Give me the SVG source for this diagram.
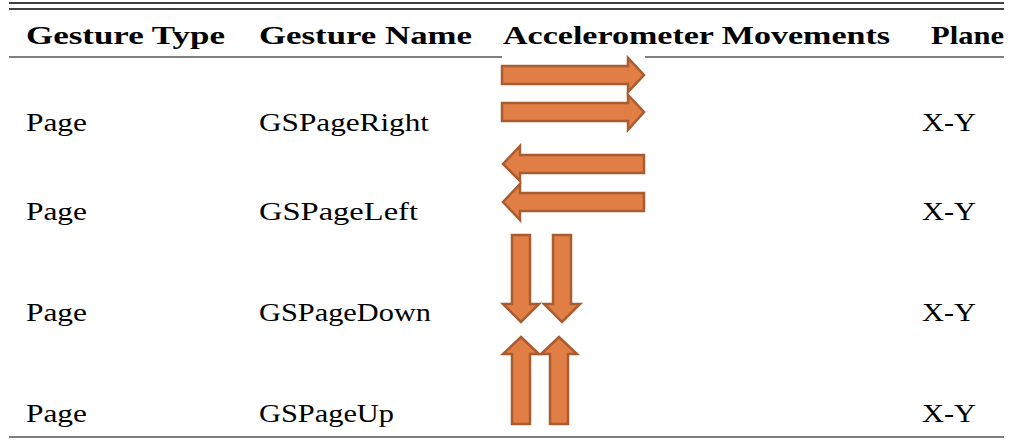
<svg xmlns="http://www.w3.org/2000/svg" width="1011" height="441" viewBox="0 0 1011 441">
<style>
.h{font-family:"Liberation Serif","DejaVu Serif",serif;font-weight:bold;font-size:25px;fill:#000}
.t{font-family:"Liberation Serif","DejaVu Serif",serif;font-size:25px;fill:#000}
.ar{fill:#E07E45;stroke:#A85C30;stroke-width:2.5;stroke-linejoin:miter}
.rule{stroke:#000}
</style>
<rect width="1011" height="441" fill="#fff"/>
<g id="rules">
<line class="rule" x1="9" y1="3" x2="1004" y2="3" stroke-width="1.5" stroke="#555"/>
<line class="rule" x1="9" y1="9" x2="1004" y2="9" stroke-width="1.5"/>
<line class="rule" x1="9" y1="57" x2="502" y2="57" stroke-width="1.2"/>
<line class="rule" x1="645" y1="57" x2="1004" y2="57" stroke-width="1.2"/>
<line class="rule" x1="9" y1="437" x2="1004" y2="437" stroke-width="1.2"/>
</g>
<g id="header">
<text class="h" x="26" y="44" textLength="199" lengthAdjust="spacingAndGlyphs">Gesture Type</text>
<text class="h" x="259" y="44" textLength="213" lengthAdjust="spacingAndGlyphs">Gesture Name</text>
<text class="h" x="503" y="44" textLength="387" lengthAdjust="spacingAndGlyphs">Accelerometer Movements</text>
<text class="h" x="931" y="44" textLength="73" lengthAdjust="spacingAndGlyphs">Plane</text>
</g>
<g id="row1">
<text class="t" x="26" y="131" textLength="61" lengthAdjust="spacingAndGlyphs">Page</text>
<text class="t" x="259" y="131" textLength="170" lengthAdjust="spacingAndGlyphs">GSPageRight</text>
<text class="t" x="922" y="131" textLength="54" lengthAdjust="spacingAndGlyphs">X-Y</text>
<polygon class="ar" points="502,66 628,66 628,58 644,75 628,92 628,84 502,84"/>
<polygon class="ar" points="502,103 628,103 628,95 644,112 628,130 628,121 502,121"/>
</g>
<g id="row2">
<text class="t" x="26" y="220" textLength="61" lengthAdjust="spacingAndGlyphs">Page</text>
<text class="t" x="259" y="220" textLength="159" lengthAdjust="spacingAndGlyphs">GSPageLeft</text>
<text class="t" x="922" y="220" textLength="54" lengthAdjust="spacingAndGlyphs">X-Y</text>
<polygon class="ar" points="644,155 520,155 520,146 503,164 520,181 520,173 644,173"/>
<polygon class="ar" points="644,193 520,193 520,184 503,202 520,220 520,211 644,211"/>
</g>
<g id="row3">
<text class="t" x="26" y="321" textLength="61" lengthAdjust="spacingAndGlyphs">Page</text>
<text class="t" x="259" y="321" textLength="172" lengthAdjust="spacingAndGlyphs">GSPageDown</text>
<text class="t" x="922" y="321" textLength="54" lengthAdjust="spacingAndGlyphs">X-Y</text>
<polygon class="ar" points="512,235 530,235 530,304 539,304 521,322 503,304 512,304"/>
<polygon class="ar" points="553,235 571,235 571,304 580,304 562,322 544,304 553,304"/>
</g>
<g id="row4">
<text class="t" x="26" y="422" textLength="61" lengthAdjust="spacingAndGlyphs">Page</text>
<text class="t" x="259" y="422" textLength="135" lengthAdjust="spacingAndGlyphs">GSPageUp</text>
<text class="t" x="922" y="422" textLength="54" lengthAdjust="spacingAndGlyphs">X-Y</text>
<polygon class="ar" points="512,424 530,424 530,354 539,354 521,337 503,354 512,354"/>
<polygon class="ar" points="550,424 568,424 568,354 577,354 559,337 541,354 550,354"/>
</g>
</svg>
